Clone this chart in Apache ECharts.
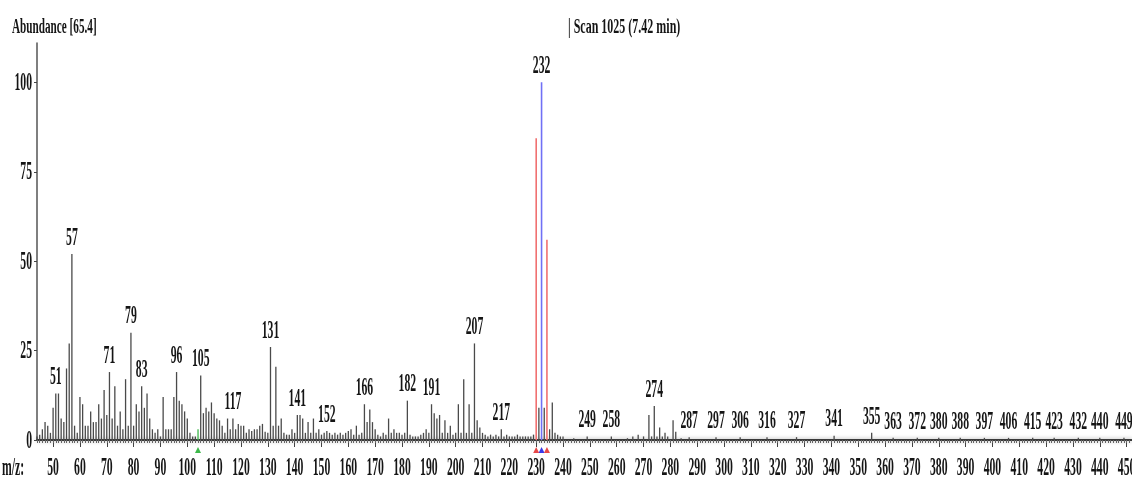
<!DOCTYPE html>
<html><head><meta charset="utf-8">
<script src="https://cdn.jsdelivr.net/npm/echarts@6/dist/echarts.min.js"></script>
<style>html,body{margin:0;padding:0;background:#fff}#c{width:1132px;height:479px}</style>
</head><body><div id="c"></div>
<script>
// ---- data ----
const grayMz = [44,45,46,47,48,49,50,51,52,53,54,55,56,57,58,59,60,61,62,63,64,65,66,67,68,69,70,71,72,73,74,75,76,77,78,79,80,81,82,83,84,85,86,87,88,89,90,91,92,93,94,95,96,97,98,99,100,101,102,103,105,106,107,108,109,110,111,112,113,114,115,116,117,118,119,120,121,122,123,124,125,126,127,128,129,130,131,132,133,134,135,136,137,138,139,140,141,142,143,144,145,146,147,148,149,150,151,152,153,154,155,156,157,158,159,160,161,162,163,164,165,166,167,168,169,170,171,172,173,174,175,176,177,178,179,180,181,182,183,184,185,186,187,188,189,190,191,192,193,194,195,196,197,198,199,200,201,202,203,204,205,206,207,208,209,210,211,212,213,214,215,216,217,218,219,220,221,222,223,224,225,226,227,228,229,231,233,235,236,237,238,239,240,244,249,258,264,266,268,270,272,273,274,275,276,277,278,279,281,282,284,287,297,306,316,327,341,355,363,372,380,388,397,406,415,423,432,440,449];
const grayAb = [1,1.5,3,5,4,2,9,13,13,6,5,20,27,52,4,2,12,10,4,4,8,5,5,10,6,14,7,19,6,15,4,8,3,17,4,30,4,10,8,15,9,13,6,3,2,3,1,12,3,3,3,12,19,11,10,8,6,2,1,1,18,7.5,9,8,10.5,7.5,6,5.5,4,2,6,3,6,3,4.5,4,4,2,3,2.5,3,3,4,4.5,2.3,2,26,4,20.5,4,6,2,1.5,1.5,3,2,7,7,6,2,5,2,6,2,3,1.5,2,2.5,2,1.5,2,1.5,2,1.5,2,2.5,3,1.5,4,1.5,2,10,5,8.5,5,3,1.5,1,2,1.5,6,2,3,2,2,1.5,2,11,1.5,1,1,1,1.5,2,3,2,10,7.5,6,7,2,5.5,2,4,1.5,2,10,2,17,2,10,2,27,5.5,3.5,2,1.5,1,1.5,1,1.5,1,3,1,1.5,1,1,1,1.5,1,1,1,1,1,1.5,9,9,3,10.5,2,1.5,1,1,0.5,1,1,0.5,1,1.5,1,7,1,9.5,1,3.5,1,2,1,5.5,2.3,0.5,0.8,0.8,0.8,0.8,0.8,1.2,2,0.6,0.6,0.6,0.6,0.6,0.6,0.6,0.6,0.6,0.6,0.6];
const redMz = [230, 234];
const redAb = [84.4, 56];
const blueMz = [232];
const blueAb = [100];
const greenMz = [104];
const greenAb = [3];
const peakLabels = [51,57,71,79,83,96,105,117,131,141,152,166,182,191,207,217,232,249,258,274,287,297,306,316,327,341,355,363,372,380,388,397,406,415,423,432,440,449];
const xTickLabels = [50,60,70,80,90,100,110,120,130,140,150,160,170,180,190,200,210,220,230,240,250,260,270,280,290,300,310,320,330,340,350,360,370,380,390,400,410,420,430,440,450];
const yTickLabels = [0,25,50,75,100];
const markerMz = [104, 230, 232, 234];
const titleText = 'Abundance [65.4]';
const scanText = '| Scan 1025 (7.42 min)';
const xAxisName = 'm/z:';

// ---- drawing ----
const X_MIN = 44, X_MAX = 452, Y_MAX = 111;
const FONT = 'bold 26px "Liberation Serif", "DejaVu Serif", serif';
const SX = 0.45;
const TXT = '#151515';

function abAt(m) {
  const lists = [[grayMz, grayAb], [redMz, redAb], [blueMz, blueAb], [greenMz, greenAb]];
  let v = 0;
  for (const [ms, as] of lists) { const i = ms.indexOf(m); if (i >= 0) v = Math.max(v, as[i]); }
  return v;
}
function peakSeries(mz, ab, color, width) {
  return {
    type: 'custom', silent: true, clip: false,
    data: mz.map((m, i) => [m, ab[i]]),
    renderItem: function (params, api) {
      const p0 = api.coord([api.value(0), 0]);
      const p1 = api.coord([api.value(0), api.value(1)]);
      return { type: 'line', shape: { x1: p0[0], y1: p0[1], x2: p1[0], y2: p1[1] },
               style: { stroke: color, lineWidth: width } };
    }
  };
}
const markerColors = { 104: '#3cb84a', 230: '#e84848', 232: '#3a3ae8', 234: '#e84848' };

const chart = echarts.init(document.getElementById('c'), null, { renderer: 'canvas' });
chart.setOption({
  animation: false,
  backgroundColor: '#ffffff',
  grid: { left: 37, right: 0, top: 43, bottom: 39 },
  xAxis: [{
    type: 'value', min: X_MIN, max: X_MAX, position: 'bottom',
    axisLine: { show: true, lineStyle: { color: '#3a3a3a', width: 2, shadowBlur: 4, shadowColor: 'rgba(0,0,0,0.35)' } },
    axisTick: { show: true, customValues: xTickLabels, length: 7, lineStyle: { color: '#444', width: 1 } },
    axisLabel: { show: false }, splitLine: { show: false }
  }, {
    type: 'value', min: X_MIN, max: X_MAX, position: 'bottom',
    axisLine: { show: false },
    axisTick: { show: true, customValues: Array.from({ length: X_MAX - X_MIN + 1 }, (_, i) => X_MIN + i), length: 3, lineStyle: { color: '#666', width: 1 } },
    axisLabel: { show: false }, splitLine: { show: false }
  }],
  yAxis: {
    type: 'value', min: 0, max: Y_MAX,
    axisLine: { show: true, lineStyle: { color: '#555', width: 1.5 } },
    axisTick: { show: true, customValues: yTickLabels, length: 3, lineStyle: { color: '#444' } },
    axisLabel: { show: false }, splitLine: { show: false }
  },
  graphic: [
    { type: 'text', x: 12, y: 28, scaleX: 0.56, style: { text: titleText, font: 'bold 20px "Liberation Serif", serif', fill: TXT, verticalAlign: 'middle' } },
    { type: 'text', x: 568, y: 28, scaleX: 0.6, style: { text: scanText, font: 'bold 20px "Liberation Serif", serif', fill: TXT, verticalAlign: 'middle' } },
    { type: 'text', x: 2, y: 468, scaleX: SX, style: { text: xAxisName, font: FONT, fill: TXT, verticalAlign: 'middle' } }
  ],
  series: [
    peakSeries(grayMz, grayAb, '#4a4a4a', 1.3),
    peakSeries(greenMz, greenAb, '#3cb84a', 1.3),
    peakSeries(redMz, redAb, '#f07070', 1.6),
    peakSeries(blueMz, blueAb, '#7070f5', 1.6),
    { // isotope / reference markers under the axis
      type: 'custom', silent: true, clip: false,
      data: markerMz.map(m => [m, 0]),
      renderItem: function (params, api) {
        const m = api.value(0);
        const p = api.coord([m, 0]);
        return { type: 'polygon', shape: { points: [[p[0] - 3, p[1] + 13], [p[0] + 3, p[1] + 13], [p[0], p[1] + 7]] },
                 style: { fill: markerColors[m] } };
      }
    },
    { // peak labels
      type: 'custom', silent: true, clip: false,
      data: peakLabels.map(m => [m, abAt(m)]),
      renderItem: function (params, api) {
        const p = api.coord([api.value(0), api.value(1)]);
        return { type: 'text', x: p[0], y: p[1] - 16, scaleX: SX,
                 style: { text: String(api.value(0)), font: FONT, fill: TXT, align: 'center', verticalAlign: 'middle' } };
      }
    },
    { // x tick labels
      type: 'custom', silent: true, clip: false,
      data: xTickLabels.map(v => [v, 0]),
      renderItem: function (params, api) {
        const p = api.coord([api.value(0), 0]);
        return { type: 'text', x: p[0], y: p[1] + 28, scaleX: SX,
                 style: { text: String(api.value(0)), font: FONT, fill: TXT, align: 'center', verticalAlign: 'middle' } };
      }
    },
    { // y tick labels
      type: 'custom', silent: true, clip: false,
      data: yTickLabels.map(v => [X_MIN, v]),
      renderItem: function (params, api) {
        const p = api.coord([X_MIN, api.value(1)]);
        return { type: 'text', x: p[0] - 5, y: p[1] + 1, scaleX: SX,
                 style: { text: String(api.value(1)), font: FONT, fill: TXT, align: 'right', verticalAlign: 'middle' } };
      }
    }
  ]
});
</script>
</body></html>
